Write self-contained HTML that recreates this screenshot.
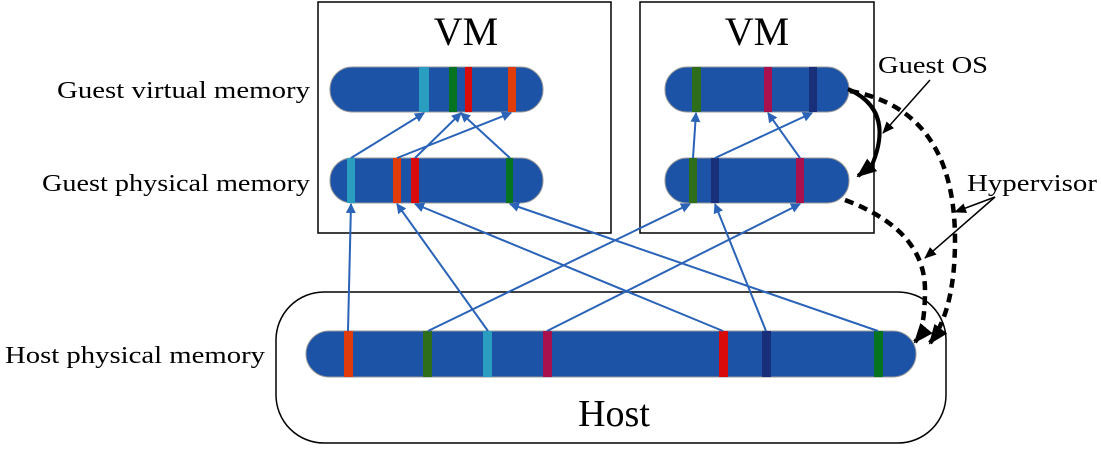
<!DOCTYPE html>
<html><head><meta charset="utf-8"><style>
body{margin:0;background:#fff;}
svg text{font-family:"Liberation Serif",serif;fill:#000;}
</style></head><body>
<svg width="1101" height="450" viewBox="0 0 1101 450" xmlns="http://www.w3.org/2000/svg">
<defs>
<marker id="ba" markerWidth="10" markerHeight="10" refX="9" refY="5" orient="auto" markerUnits="userSpaceOnUse"><path d="M0,0 L10,5 L0,10 Z" fill="#2a63b8"/></marker>
<marker id="ka" markerWidth="12" markerHeight="12" refX="11" refY="6" orient="auto" markerUnits="userSpaceOnUse"><path d="M0,1 L12,6 L0,11 Z" fill="#000"/></marker>
<marker id="kb" markerWidth="20" markerHeight="20" refX="18" refY="10" orient="auto" markerUnits="userSpaceOnUse"><path d="M0,2 L20,10 L0,18 Z" fill="#000"/></marker>
</defs>
<rect x="318" y="2" width="293" height="231" fill="none" stroke="#000" stroke-width="1.5"/>
<rect x="640" y="2" width="234" height="231" fill="none" stroke="#000" stroke-width="1.5"/>
<rect x="276" y="292" width="670" height="151" rx="48" fill="none" stroke="#000" stroke-width="1.5"/>
<text x="466" y="45" font-size="40" text-anchor="middle">VM</text>
<text x="757" y="45" font-size="40" text-anchor="middle">VM</text>
<text x="614" y="426" font-size="38" text-anchor="middle">Host</text>
<text x="57" y="98" font-size="24" textLength="253" lengthAdjust="spacingAndGlyphs">Guest virtual memory</text>
<text x="42" y="191" font-size="24" textLength="268" lengthAdjust="spacingAndGlyphs">Guest physical memory</text>
<text x="5" y="363" font-size="24" textLength="260" lengthAdjust="spacingAndGlyphs">Host physical memory</text>
<text x="878" y="73" font-size="24" textLength="110" lengthAdjust="spacingAndGlyphs">Guest OS</text>
<text x="967" y="191" font-size="24" textLength="130" lengthAdjust="spacingAndGlyphs">Hypervisor</text>
<g stroke="#999" stroke-width="1">
<rect x="330" y="67" width="213" height="45" rx="22" fill="#1c53a6"/>
<rect x="330" y="158" width="213" height="45" rx="22" fill="#1c53a6"/>
<rect x="665" y="67" width="184" height="45" rx="22" fill="#1c53a6"/>
<rect x="665" y="158" width="184" height="45" rx="22" fill="#1c53a6"/>
<rect x="306" y="331" width="610" height="46" rx="23" fill="#1c53a6"/>
</g>
<g stroke="none">
<rect x="419" y="67" width="10" height="45" fill="#2a9ec0"/>
<rect x="449" y="67" width="8" height="45" fill="#067320"/>
<rect x="465" y="67" width="7" height="45" fill="#d90a0a"/>
<rect x="508" y="67" width="8" height="45" fill="#e03b0a"/>
<rect x="347" y="158" width="8" height="45" fill="#2a9ec0"/>
<rect x="393" y="158" width="8" height="45" fill="#e03b0a"/>
<rect x="411" y="158" width="8" height="45" fill="#d90a0a"/>
<rect x="506" y="158" width="7" height="45" fill="#067320"/>
<rect x="692" y="67" width="9" height="45" fill="#2e6e1a"/>
<rect x="764" y="67" width="8" height="45" fill="#a8104e"/>
<rect x="809" y="67" width="8" height="45" fill="#1a2f7a"/>
<rect x="689" y="158" width="8" height="45" fill="#2e6e1a"/>
<rect x="711" y="158" width="8" height="45" fill="#1a2f7a"/>
<rect x="796" y="158" width="8" height="45" fill="#a8104e"/>
<rect x="344" y="331" width="9" height="46" fill="#e03b0a"/>
<rect x="423" y="331" width="9" height="46" fill="#2e6e1a"/>
<rect x="483" y="331" width="9" height="46" fill="#2a9ec0"/>
<rect x="543" y="331" width="9" height="46" fill="#a8104e"/>
<rect x="719" y="331" width="9" height="46" fill="#d90a0a"/>
<rect x="762" y="331" width="9" height="46" fill="#1a2f7a"/>
<rect x="874" y="331" width="9" height="46" fill="#067320"/>
</g>
<g stroke="#2a63b8" stroke-width="2" fill="none" marker-end="url(#ba)">
<line x1="351" y1="158" x2="424" y2="113"/>
<line x1="397" y1="158" x2="511" y2="113"/>
<line x1="415" y1="158" x2="461" y2="113"/>
<line x1="510" y1="158" x2="461" y2="113"/>
<line x1="693" y1="158" x2="696" y2="113"/>
<line x1="715" y1="158" x2="812" y2="113"/>
<line x1="800" y1="158" x2="768" y2="113"/>
<line x1="348" y1="331" x2="351" y2="204"/>
<line x1="488" y1="331" x2="397" y2="204"/>
<line x1="723" y1="331" x2="415" y2="204"/>
<line x1="878" y1="331" x2="510" y2="204"/>
<line x1="428" y1="331" x2="690" y2="204"/>
<line x1="547" y1="331" x2="800" y2="204"/>
<line x1="766" y1="331" x2="715" y2="204"/>
</g>
<path d="M848,89 Q895,110 872,165 L858,176" fill="none" stroke="#000" stroke-width="4" marker-end="url(#kb)"/>
<path d="M850,91 Q955,110 955,240 Q955,310 930,343" fill="none" stroke="#000" stroke-width="4.5" stroke-dasharray="9,6" marker-end="url(#kb)"/>
<path d="M845,200 Q925,230 925,290 Q925,330 915,342" fill="none" stroke="#000" stroke-width="4.5" stroke-dasharray="9,6" marker-end="url(#kb)"/>
<g stroke="#000" stroke-width="1.5" marker-end="url(#ka)">
<line x1="930" y1="80" x2="883" y2="133"/>
<line x1="995" y1="197" x2="955" y2="212"/>
<line x1="995" y1="197" x2="925" y2="258"/>
</g>
</svg>
</body></html>
